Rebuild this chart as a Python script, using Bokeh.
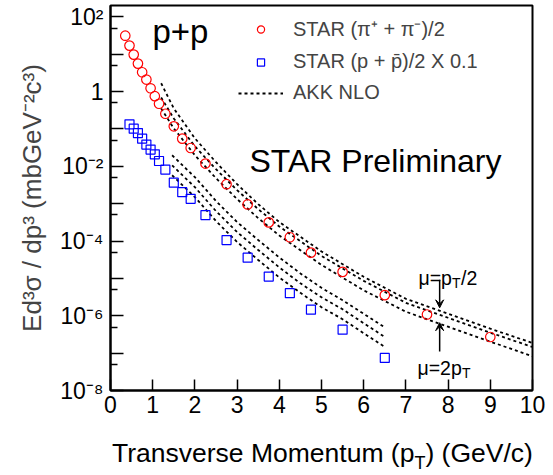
from bokeh.plotting import figure
from bokeh.layouts import column
from bokeh.models import (Range1d, FixedTicker, Label, Arrow, VeeHead, Legend,
                          LegendItem, Div)
from bokeh.embed import file_html
from bokeh.resources import INLINE

FONT = "Liberation Sans"

# ---------------- data ----------------
pion_pt = [0.35, 0.45, 0.55, 0.65, 0.75, 0.85, 0.95, 1.05, 1.15, 1.3, 1.5, 1.7,
           1.9, 2.25, 2.75, 3.25, 3.75, 4.25, 4.75, 5.5, 6.5, 7.5, 9.0]
pion_y = [31.1, 16.9, 9.7, 5.58, 3.27, 2.09, 1.22, 0.75, 0.47, 0.254, 0.117,
          0.0548, 0.0308, 0.0118, 3.31e-3, 9.5e-4, 3.15e-4, 1.26e-4, 4.88e-5,
          1.49e-5, 3.56e-6, 1.08e-6, 2.70e-7]

proton_pt = [0.45, 0.55, 0.65, 0.75, 0.85, 0.95, 1.05, 1.15, 1.3, 1.5, 1.7, 1.9,
             2.25, 2.75, 3.25, 3.75, 4.25, 4.75, 5.5, 6.5]
proton_y = [0.132, 0.101, 0.0773, 0.0548, 0.0379, 0.0279, 0.0209, 0.0138,
            8.17e-3, 3.63e-3, 2.03e-3, 1.34e-3, 4.93e-4, 1.06e-4, 3.59e-5,
            1.12e-5, 4.03e-6, 1.45e-6, 4.24e-7, 7.45e-8]

akk_pion_pt = [1.2, 1.5, 2.0, 2.5, 3.0, 3.5, 4.0, 5.0, 6.0, 7.0, 8.0, 9.0, 10.0]
akk_pion_half = [1.66, 0.352, 0.0558, 0.0128, 3.31e-3, 9.7e-4, 3.21e-4, 5.25e-5,
                 1.10e-5, 2.84e-6, 1.13e-6, 4.50e-7, 1.87e-7]
akk_pion_one = [0.692, 0.19, 0.0341, 8.32e-3, 2.29e-3, 7.13e-4, 2.44e-4, 3.98e-5,
                8.58e-6, 2.22e-6, 8.85e-7, 3.52e-7, 1.46e-7]
akk_pion_two = [0.352, 0.103, 0.0197, 4.79e-3, 1.32e-3, 4.1e-4, 1.40e-4, 2.29e-5,
                4.79e-6, 1.28e-6, 5.09e-7, 2.03e-7, 8.22e-8]

akk_proton_pt = [1.46, 2.0, 2.5, 3.0, 3.5, 4.0, 4.5, 5.0, 5.5, 6.0, 6.5]
akk_proton_half = [0.0197, 5.09e-3, 1.17e-3, 3.21e-4, 1.06e-4, 3.63e-5, 1.36e-5,
                   5.58e-6, 2.59e-6, 1.13e-6, 4.88e-7]
akk_proton_one = [0.0106, 2.75e-3, 6.31e-4, 1.74e-4, 5.75e-5, 1.97e-5, 7.36e-6,
                  3.11e-6, 1.49e-6, 6.31e-7, 2.70e-7]
akk_proton_two = [5.75e-3, 1.49e-3, 3.41e-4, 9.4e-5, 3.11e-5, 1.06e-5, 4.1e-6,
                  1.69e-6, 8.07e-7, 3.41e-7, 1.46e-7]

x_ticks = [0, 1, 2, 3, 4, 5, 6, 7, 8, 9, 10]
x_tick_labels = ["0", "1", "2", "3", "4", "5", "6", "7", "8", "9", "10"]
y_ticks = [1e-8, 1e-7, 1e-6, 1e-5, 1e-4, 1e-3, 1e-2, 1e-1, 1.0, 10.0, 100.0]
y_tick_labels = ["10⁻⁸", "", "10⁻⁶", "", "10⁻⁴", "", "10⁻²", "", "1", "", "10²"]
y_minor_ticks = [5e-8, 5e-7, 5e-6, 5e-5, 5e-4, 5e-3, 5e-2, 0.5, 5.0, 50.0]

legend_labels = ["STAR (π⁺ + π⁻)/2", "STAR (p + p\u0304)/2 X 0.1", "AKK NLO"]
y_title = "Ed³σ / dp³ (mbGeV⁻²c³)"
x_title_main = "Transverse Momentum (p"
x_title_sub = "T"
x_title_tail = ") (GeV/c)"

arrow_pt = 7.8
arrow_upper = [9.12e-6, 1.63e-6]
arrow_lower = [1.10e-7, 6.51e-7]

# ---------------- figure ----------------
p = figure(width=553, height=440, title=None,
           x_range=Range1d(0, 10), y_range=Range1d(1e-8, 200),
           y_axis_type="log", output_backend="svg", toolbar_location=None,
           min_border_left=110, min_border_right=21, min_border_top=5,
           min_border_bottom=50, margin=0)
p.grid.visible = False
p.outline_line_color = "black"
p.outline_line_width = 2
p.background_fill_color = "white"
p.border_fill_color = "white"

p.xaxis.ticker = FixedTicker(ticks=x_ticks, minor_ticks=[])
p.xaxis.major_label_overrides = dict(zip(x_ticks, x_tick_labels))
p.yaxis.ticker = FixedTicker(ticks=y_ticks, minor_ticks=y_minor_ticks)
p.yaxis.major_label_overrides = dict(zip(y_ticks, y_tick_labels))

for ax in p.axis:
    ax.axis_line_color = "black"
    ax.axis_line_width = 2
    ax.major_tick_out = 0
    ax.minor_tick_out = 0
    ax.major_tick_line_width = 1.5
    ax.minor_tick_line_width = 1.5
    ax.major_label_text_font = FONT
    ax.major_label_text_font_size = "23px"
    ax.major_label_text_color = "black"
p.xaxis.major_tick_in = 11
p.xaxis.major_label_standoff = 5
p.yaxis.major_tick_in = 13
p.yaxis.minor_tick_in = 7
p.yaxis.major_label_standoff = 7
p.yaxis.axis_label = y_title
p.yaxis.axis_label_text_font = FONT
p.yaxis.axis_label_text_font_size = "26px"
p.yaxis.axis_label_text_font_style = "normal"
p.yaxis.axis_label_standoff = 10

# ---------------- curves ----------------
dash = "3 3"
lw = 1.8
r_akk = p.line(akk_pion_pt, akk_pion_half, line_color="black", line_dash=dash, line_width=lw)
p.line(akk_pion_pt, akk_pion_one, line_color="black", line_dash=dash, line_width=lw)
p.line(akk_pion_pt, akk_pion_two, line_color="black", line_dash=dash, line_width=lw)
p.line(akk_proton_pt, akk_proton_half, line_color="black", line_dash=dash, line_width=lw)
p.line(akk_proton_pt, akk_proton_one, line_color="black", line_dash=dash, line_width=lw)
p.line(akk_proton_pt, akk_proton_two, line_color="black", line_dash=dash, line_width=lw)

r_pi = p.scatter(pion_pt, pion_y, marker="circle", size=9.5, fill_color=None,
                 line_color="red", line_width=1.2)
r_p = p.scatter(proton_pt, proton_y, marker="square", size=9, fill_color=None,
                line_color="#0000ff", line_width=1.2)

legend = Legend(items=[LegendItem(label=legend_labels[0], renderers=[r_pi]),
                       LegendItem(label=legend_labels[1], renderers=[r_p]),
                       LegendItem(label=legend_labels[2], renderers=[r_akk])],
                location=(128, 286), orientation="vertical",
                border_line_color=None, background_fill_alpha=0,
                padding=0, margin=0, spacing=8, glyph_width=45, glyph_height=18,
                label_standoff=10, label_height=18,
                label_text_font=FONT, label_text_font_size="20px")
p.add_layout(legend)

# ---------------- texts inside the frame ----------------
FL, FB = 110, 390  # frame left / bottom in canvas pixels


def lab(text, x, y, size, align="left"):
    p.add_layout(Label(x=x - FL, y=FB - y, x_units="screen", y_units="screen",
                       text=text, text_font=FONT, text_font_size=f"{size}px",
                       text_align=align, text_baseline="alphabetic",
                       text_color="black"))


lab("p+p", 152, 31, 33)
lab("STAR Preliminary", 249, 160, 32)

lab("μ=p", 418, 277, 19.5)
lab("T", 451.5, 282, 14)
lab("/2", 460.5, 277, 19.5)
lab("μ=2p", 417, 367, 19.5)
lab("T", 461.5, 372, 14)

p.add_layout(Arrow(x_start=arrow_pt, y_start=arrow_upper[0], x_end=arrow_pt,
                   y_end=arrow_upper[1], line_color="black", line_width=1.5,
                   end=VeeHead(size=8, fill_color="black", line_color="black")))
p.add_layout(Arrow(x_start=arrow_pt, y_start=arrow_lower[0], x_end=arrow_pt,
                   y_end=arrow_lower[1], line_color="black", line_width=1.5,
                   end=VeeHead(size=8, fill_color="black", line_color="black")))

# ---------------- x axis title (with subscript) below the plot ----------------
xtitle = Div(
    text=(f'<div style="position:relative; left:112px; top:-2px; '
          f'font-family:\'{FONT}\'; font-size:26.5px; line-height:30px; '
          f'white-space:nowrap; color:black;">{x_title_main}'
          f'<span style="font-size:18px; vertical-align:-7px; line-height:18px;">'
          f'{x_title_sub}</span>{x_title_tail}</div>'),
    width=553, height=35, margin=0)

page = column(p, xtitle, spacing=0, margin=0)

open("out.html", "w").write(file_html(page, INLINE))
